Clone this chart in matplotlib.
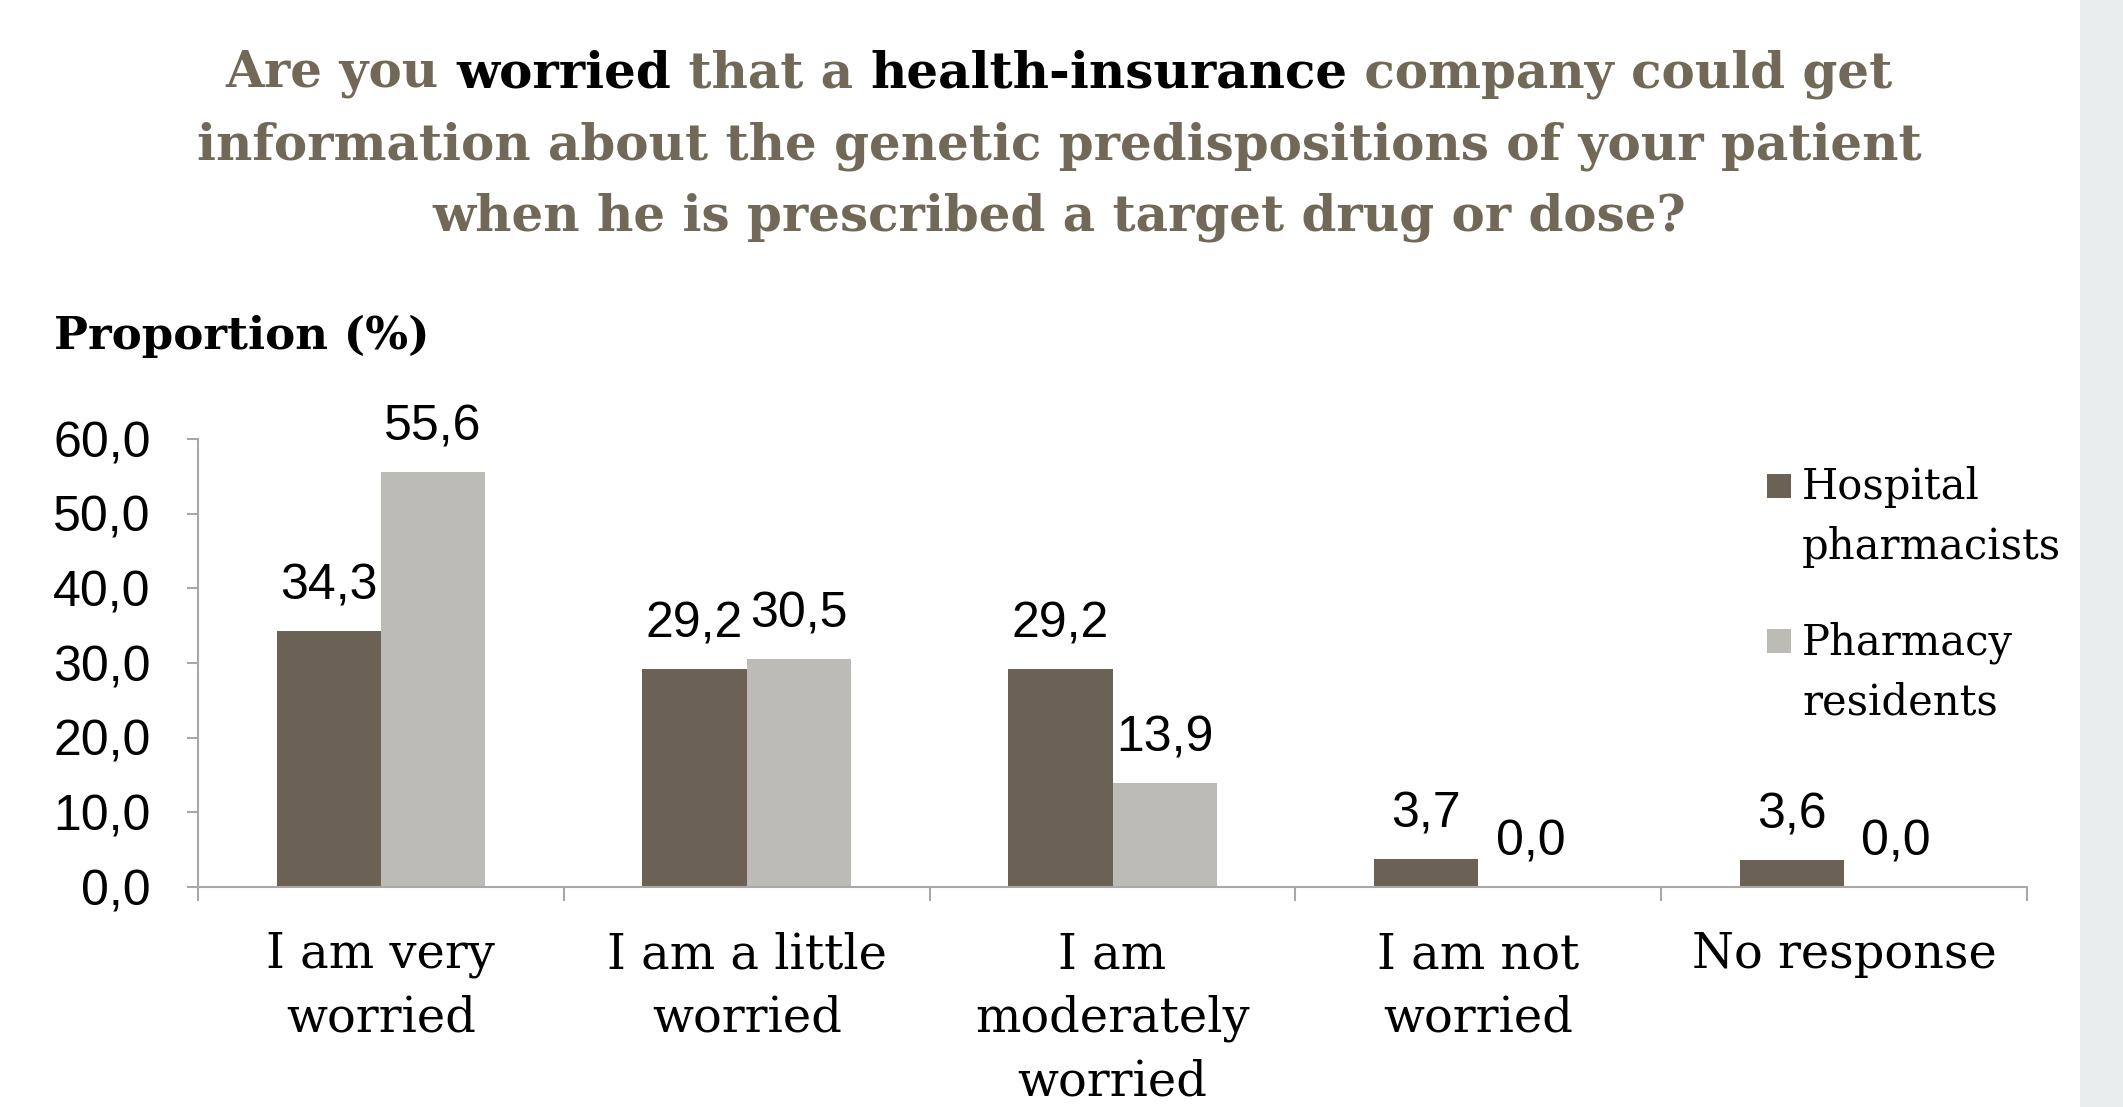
import matplotlib
matplotlib.use('Agg')
import matplotlib.pyplot as plt
from matplotlib.patches import Rectangle

# data
categories = ['I am very\nworried', 'I am a little\nworried', 'I am\nmoderately\nworried',
              'I am not\nworried', 'No response']
hospital = [34.3, 29.2, 29.2, 3.7, 3.6]
residents = [55.6, 30.5, 13.9, 0.0, 0.0]
series_names = ['Hospital\npharmacists', 'Pharmacy\nresidents']
yticks = [0, 10, 20, 30, 40, 50, 60]

DARK = '#6B6154'
LIGHT = '#BDBBB6'
TITLE_GREY = '#716858'
SERIF = 'DejaVu Serif'
SANS = 'Liberation Sans'
TITLE_SIZE = 36
NUM_SIZE = 36

W, H = 2123, 1107
fig = plt.figure(figsize=(W / 100, H / 100), dpi=100)
fig.patch.set_facecolor('white')

# light strip on the right edge of the slide
fig.add_artist(Rectangle((2080 / W, 0), 1 - 2080 / W, 1, transform=fig.transFigure,
                         facecolor='#E8EEEE', edgecolor='none', zorder=0))

ax = fig.add_axes([198 / W, 1 - 887 / H, (2027 - 198) / W, (887 - 439) / H])
x = list(range(len(categories)))
bw = 0.285
ax.bar(x, hospital, width=-bw, align='edge', color=DARK, zorder=2)
ax.bar(x, residents, width=bw, align='edge', color=LIGHT, zorder=2)

ax.set_xlim(-0.5, len(categories) - 0.5)
ax.set_ylim(0, 60)
for s in ['top', 'right']:
    ax.spines[s].set_visible(False)
for s in ['left', 'bottom']:
    ax.spines[s].set_color('#A8A8A8')
    ax.spines[s].set_linewidth(1.5)

ax.set_yticks(yticks)
ax.set_yticklabels([('%.1f' % v).replace('.', ',') for v in yticks],
                   fontfamily=SANS, fontsize=NUM_SIZE)
ax.tick_params(axis='y', length=8, width=1.5, color='#A8A8A8', pad=26)

ax.set_xticks(x)
ax.set_xticklabels(categories, fontfamily=SERIF, fontsize=34.5, linespacing=1.44, va='top')
ax.tick_params(axis='x', which='major', length=0, pad=32)
ax.set_xticks([i - 0.5 for i in range(len(categories) + 1)], minor=True)
ax.tick_params(axis='x', which='minor', length=10, width=1.5, color='#A8A8A8')

def fmt(v):
    return ('%.1f' % v).replace('.', ',')

for i in x:
    ax.annotate(fmt(hospital[i]), (i - bw / 2, hospital[i]), xytext=(0, 32),
                textcoords='offset points', ha='center', va='center',
                fontfamily=SANS, fontsize=NUM_SIZE)
    ax.annotate(fmt(residents[i]), (i + bw / 2, residents[i]), xytext=(0, 32),
                textcoords='offset points', ha='center', va='center',
                fontfamily=SANS, fontsize=NUM_SIZE)

# legend drawn by hand so the square sits on the first line
leg_y = [486, 641]
for name, col, yy in zip(series_names, [DARK, LIGHT], leg_y):
    fig.add_artist(Rectangle((1767 / W, 1 - (yy + 12) / H), 24 / W, 24 / H,
                             transform=fig.transFigure, facecolor=col, edgecolor='none'))
    fig.text(1802 / W, 1 - (yy - 20) / H, name, fontfamily=SERIF, fontsize=30,
             ha='left', va='top', linespacing=1.55)

fig.text(54 / W, 1 - 336 / H, 'Proportion (%)', fontfamily=SERIF, fontweight='bold',
         fontsize=32.5, ha='left', va='center')

# title: three centred lines, two words in black
title_lines = [
    [('Are you ', TITLE_GREY), ('worried', 'black'), (' that a ', TITLE_GREY),
     ('health-insurance', 'black'), (' company could get', TITLE_GREY)],
    [('information about the genetic predispositions of your patient', TITLE_GREY)],
    [('when he is prescribed a target drug or dose?', TITLE_GREY)],
]
title_y = [74, 146, 217]
cx = 1059
renderer = fig.canvas.get_renderer()
for parts, yy in zip(title_lines, title_y):
    texts = []
    for s, c in parts:
        t = fig.text(0, 1 - yy / H, s, fontfamily=SERIF, fontweight='bold',
                     fontsize=TITLE_SIZE, color=c, ha='left', va='center')
        texts.append(t)
    full = fig.text(0, 0, ''.join(s for s, c in parts), fontfamily=SERIF,
                    fontweight='bold', fontsize=TITLE_SIZE)
    total = full.get_window_extent(renderer).width
    full.remove()
    xpos = cx - total / 2
    for (s, c), t in zip(parts, texts):
        t.set_x(xpos / W)
        # width measured including trailing spaces
        probe = fig.text(0, 0, s.replace(' ', '\u00a0'), fontfamily=SERIF,
                         fontweight='bold', fontsize=TITLE_SIZE)
        xpos += probe.get_window_extent(renderer).width
        probe.remove()

fig.savefig('out.png', dpi=100)
